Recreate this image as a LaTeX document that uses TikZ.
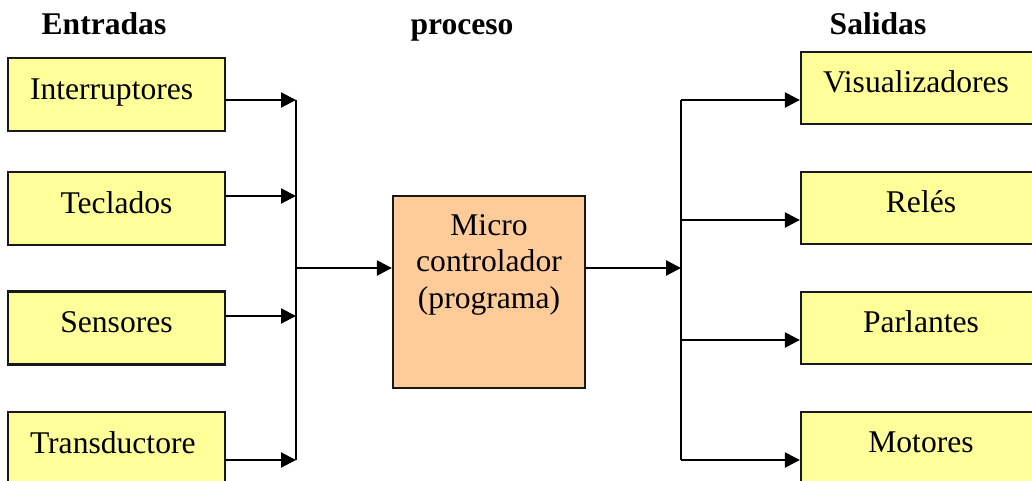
\documentclass[tikz,border=0pt]{standalone}
\usepackage{fontspec}
\setmainfont{Liberation Serif}
\usetikzlibrary{arrows.meta}
\definecolor{boxyellow}{HTML}{FFFF99}
\definecolor{boxorange}{HTML}{FFCC99}
\begin{document}
\begin{tikzpicture}[x=1pt,y=-1pt,
  every node/.style={font=\fontsize{31.6}{36.5}\selectfont},
  head/.style={font=\fontsize{31.6}{36.5}\selectfont\bfseries, anchor=base, inner sep=0pt},
  iobox/.style={draw=black!90, line width=2.2pt, fill=boxyellow, rectangle,
    minimum height=73pt, inner xsep=22pt, inner ysep=0pt,
    text height=21pt, text depth=12pt},
  inbox/.style={iobox, text width=173pt},
  outbox/.style={iobox, text width=196pt, minimum height=72pt},
  mcbox/.style={draw=black!90, line width=2.2pt, fill=boxorange, rectangle,
    minimum width=192pt, minimum height=192pt, inner sep=0pt, align=center,
    text height=94pt, text depth=62pt},
  conn/.style={line width=2.2pt, -{Triangle[length=15pt,width=15pt]}},
  bus/.style={line width=2.2pt}
]
\useasboundingbox (0,0) rectangle (1032,480);
\clip (0,0) rectangle (1032,480);

% column titles
\node[head] (hin)  at (104,34) {Entradas};
\node[head] (hpro) at (462,34) {proceso};
\node[head] (hout) at (878,34) {Salidas};

% inputs
\node[inbox, align=left]   (in1) at (116.5,94.5)  {Interruptores};
\node[inbox, align=center] (in2) at (116.5,208.5) {Teclados};
\node[inbox, align=center] (in3) at (116.5,328)   {Sensores};
\node[inbox, align=left]   (in4) at (116.5,448.5) {Transductore};

% outputs
\node[outbox, align=left]   (out1) at (921,88)  {Visualizadores};
\node[outbox, align=center] (out2) at (921,208) {Relés};
\node[outbox, align=center] (out3) at (921,328) {Parlantes};
\node[outbox, align=center] (out4) at (921,448) {Motores};

% microcontroller
\node[mcbox] (mc) at (489,292) {Micro\\controlador\\(programa)};

% input bus
\coordinate (lb1) at (296,100);
\coordinate (lb2) at (296,196);
\coordinate (lb3) at (296,316);
\coordinate (lb4) at (296,460);
\coordinate (lbm) at (296,268);
\draw[bus] (lb1) -- (lb4);
\draw[conn] (in1.east |- lb1) -- (lb1);
\draw[conn] (in2.east |- lb2) -- (lb2);
\draw[conn] (in3.east |- lb3) -- (lb3);
\draw[conn] (in4.east |- lb4) -- (lb4);
\draw[conn] (lbm) -- (mc.west |- lbm);

% output bus
\coordinate (rb1) at (681,100);
\coordinate (rb2) at (681,220);
\coordinate (rb3) at (681,340);
\coordinate (rb4) at (681,460);
\coordinate (rbm) at (681,268);
\draw[bus] (rb1) -- (rb4);
\draw[conn] (mc.east |- rbm) -- (rbm);
\draw[conn] (rb1) -- (out1.west |- rb1);
\draw[conn] (rb2) -- (out2.west |- rb2);
\draw[conn] (rb3) -- (out3.west |- rb3);
\draw[conn] (rb4) -- (out4.west |- rb4);
\end{tikzpicture}
\end{document}
